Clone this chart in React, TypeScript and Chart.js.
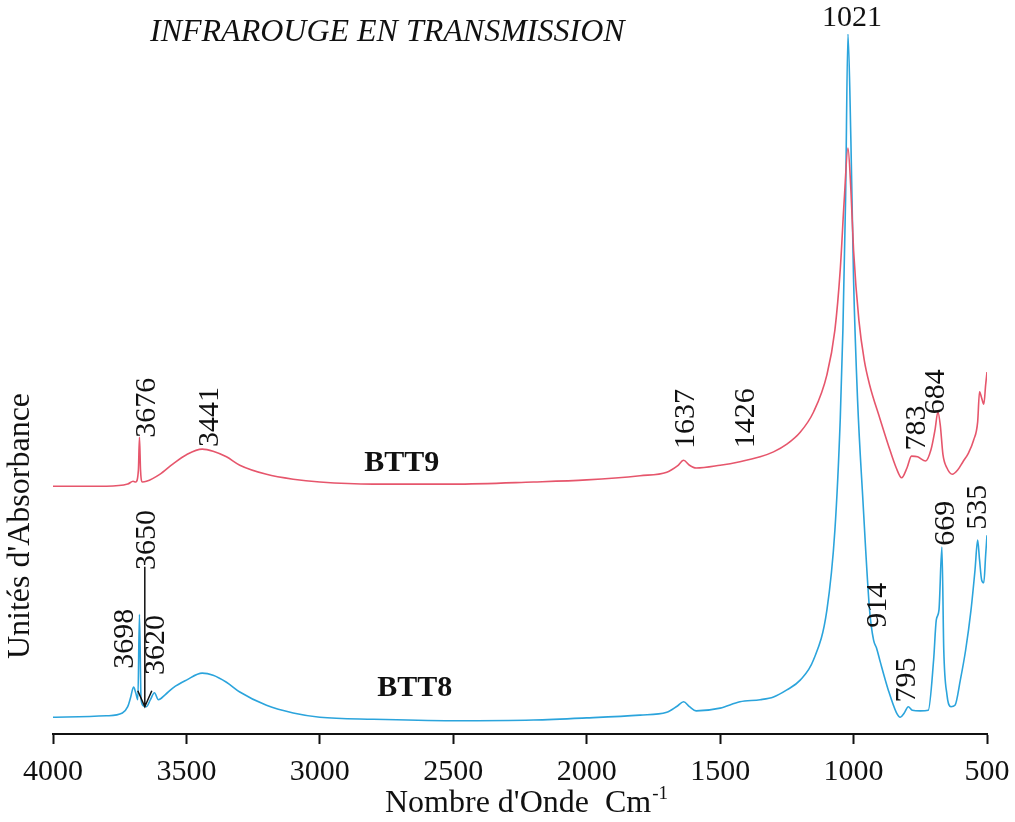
import React, { useEffect, useRef } from "react";
import { Chart, registerables } from "chart.js";

Chart.register(...registerables);

// Wavenumber (cm-1) axis ticks
const xTicks = [4000, 3500, 3000, 2500, 2000, 1500, 1000, 500];

// BTT9 spectrum (arbitrary absorbance units)
const btt9Wn = [4000, 3800, 3720, 3700, 3690, 3680, 3676, 3672, 3665, 3650, 3600, 3550, 3500, 3441, 3400, 3350, 3300, 3200, 3100, 3000, 2800, 2500, 2200, 2000, 1800, 1700, 1660, 1637, 1615, 1590, 1500, 1426, 1350, 1300, 1250, 1200, 1150, 1100, 1070, 1050, 1035, 1021, 1010, 1000, 980, 960, 940, 900, 870, 840, 820, 800, 783, 760, 730, 710, 695, 684, 675, 665, 650, 630, 610, 590, 570, 550, 535, 528, 520, 512, 505, 500];
const btt9Abs = [0.354, 0.354, 0.357, 0.361, 0.36, 0.377, 0.424, 0.377, 0.36, 0.361, 0.371, 0.386, 0.399, 0.407, 0.404, 0.396, 0.384, 0.371, 0.364, 0.36, 0.357, 0.357, 0.36, 0.363, 0.369, 0.374, 0.383, 0.391, 0.384, 0.38, 0.384, 0.389, 0.396, 0.403, 0.414, 0.431, 0.46, 0.513, 0.577, 0.663, 0.763, 0.837, 0.777, 0.691, 0.591, 0.534, 0.499, 0.449, 0.413, 0.38, 0.366, 0.38, 0.397, 0.396, 0.39, 0.406, 0.434, 0.46, 0.441, 0.399, 0.38, 0.371, 0.377, 0.389, 0.401, 0.42, 0.446, 0.489, 0.48, 0.471, 0.499, 0.517];

// BTT8 spectrum (arbitrary absorbance units)
const btt8Wn = [4000, 3800, 3740, 3720, 3710, 3698, 3690, 3682, 3676, 3670, 3660, 3650, 3635, 3620, 3605, 3580, 3550, 3500, 3441, 3400, 3350, 3300, 3200, 3100, 3000, 2800, 2500, 2200, 2000, 1800, 1700, 1660, 1637, 1615, 1590, 1500, 1426, 1350, 1300, 1250, 1200, 1150, 1100, 1070, 1050, 1040, 1030, 1021, 1010, 1000, 985, 965, 940, 925, 914, 900, 870, 840, 825, 810, 795, 780, 750, 720, 700, 690, 680, 669, 662, 650, 635, 620, 600, 580, 560, 545, 535, 528, 520, 512, 505, 500];
const btt8Abs = [0.024, 0.026, 0.03, 0.039, 0.051, 0.067, 0.059, 0.049, 0.171, 0.049, 0.04, 0.039, 0.049, 0.059, 0.049, 0.056, 0.066, 0.077, 0.087, 0.084, 0.074, 0.06, 0.041, 0.03, 0.024, 0.021, 0.019, 0.02, 0.023, 0.027, 0.031, 0.04, 0.046, 0.039, 0.033, 0.037, 0.046, 0.049, 0.053, 0.063, 0.077, 0.106, 0.177, 0.291, 0.449, 0.577, 0.763, 1.0, 0.847, 0.649, 0.477, 0.334, 0.177, 0.134, 0.123, 0.103, 0.063, 0.031, 0.024, 0.03, 0.039, 0.034, 0.033, 0.034, 0.106, 0.163, 0.177, 0.267, 0.12, 0.056, 0.039, 0.041, 0.077, 0.12, 0.177, 0.234, 0.277, 0.249, 0.22, 0.216, 0.256, 0.284];

// Peak annotations: text, wavenumber position, absorbance position
const peakLabels = ["3676", "3441", "1637", "1426", "783", "684", "3650", "3698", "3620", "914", "795", "669", "535"];
const peakLabelWn = [3649, 3413, 1628, 1403, 762, 691, 3649, 3728, 3612, 908, 799, 653, 533];
const peakLabelAbs = [0.466, 0.453, 0.45, 0.451, 0.437, 0.489, 0.277, 0.136, 0.127, 0.184, 0.077, 0.301, 0.324];

const seriesNames = ["BTT9", "BTT8"];
const seriesNameWn = [2693, 2644];
const seriesNameAbs = [0.387, 0.066];

const topPeakLabel = "1021";
const topPeakWn = 1006;
const topPeakAbs = 1.023;

const arrowWn = 3656;
const arrowFromAbs = 0.239;
const arrowToAbs = 0.039;

const titleText = "INFRAROUGE EN TRANSMISSION";
const yTitleText = "Unités d'Absorbance";
const xTitleText = "Nombre d'Onde  Cm";
const xTitleSup = "-1";

const RED = "#e6566c";
const BLUE = "#2ba4dc";
const SERIF = '"Liberation Serif", "Times New Roman", serif';

const annotationPlugin = {
  id: "annotations",
  afterDraw(chart: any) {
    const { ctx, scales } = chart;
    const xs = scales.x;
    const ys = scales.y;
    const px = (w: number) => xs.getPixelForValue(w);
    const py = (v: number) => ys.getPixelForValue(v);
    ctx.save();
    ctx.fillStyle = "#111";
    ctx.strokeStyle = "#111";

    // rotated peak labels
    ctx.font = `30px ${SERIF}`;
    peakLabels.forEach((t, i) => {
      ctx.save();
      ctx.translate(px(peakLabelWn[i]), py(peakLabelAbs[i]));
      ctx.rotate(-Math.PI / 2);
      ctx.textAlign = "center";
      ctx.textBaseline = "middle";
      ctx.fillText(t, 0, 0);
      ctx.restore();
    });

    // top peak label
    ctx.textAlign = "center";
    ctx.textBaseline = "middle";
    ctx.fillText(topPeakLabel, px(topPeakWn), py(topPeakAbs));

    // series names
    ctx.font = `bold 30px ${SERIF}`;
    seriesNames.forEach((t, i) => {
      ctx.fillText(t, px(seriesNameWn[i]), py(seriesNameAbs[i]));
    });

    // arrow
    const ax = px(arrowWn);
    const ay0 = py(arrowFromAbs);
    const ay1 = py(arrowToAbs);
    ctx.lineWidth = 1.5;
    ctx.beginPath();
    ctx.moveTo(ax, ay0);
    ctx.lineTo(ax, ay1);
    ctx.moveTo(ax - 7, ay1 - 16);
    ctx.lineTo(ax, ay1);
    ctx.lineTo(ax + 7, ay1 - 16);
    ctx.stroke();

    // title
    ctx.font = `italic 32px ${SERIF}`;
    ctx.textAlign = "left";
    ctx.textBaseline = "alphabetic";
    ctx.fillText(titleText, 150, 41);

    // y title
    ctx.font = `32px ${SERIF}`;
    ctx.save();
    ctx.translate(21, 526);
    ctx.rotate(-Math.PI / 2);
    ctx.textAlign = "center";
    ctx.textBaseline = "middle";
    ctx.fillText(yTitleText, 0, 0);
    ctx.restore();

    // x title
    ctx.font = `32px ${SERIF}`;
    const w1 = ctx.measureText(xTitleText).width;
    ctx.font = `19px ${SERIF}`;
    const w2 = ctx.measureText(xTitleSup).width;
    const cx = 526;
    const startX = cx - (w1 + w2) / 2;
    ctx.textAlign = "left";
    ctx.textBaseline = "alphabetic";
    ctx.font = `32px ${SERIF}`;
    ctx.fillText(xTitleText, startX, 812);
    ctx.font = `19px ${SERIF}`;
    ctx.fillText(xTitleSup, startX + w1 + 1, 799);

    ctx.restore();
  },
};

export default function App() {
  const canvasRef = useRef<HTMLCanvasElement | null>(null);

  useEffect(() => {
    document.body.style.margin = "0";
    const canvas = canvasRef.current;
    if (!canvas) return;
    const chart = new Chart(canvas, {
      type: "line",
      data: {
        datasets: [
          {
            label: seriesNames[0],
            data: btt9Wn.map((w, i) => ({ x: w, y: btt9Abs[i] })),
            borderColor: RED,
            borderWidth: 1.6,
            pointRadius: 0,
            fill: false,
            cubicInterpolationMode: "monotone",
          },
          {
            label: seriesNames[1],
            data: btt8Wn.map((w, i) => ({ x: w, y: btt8Abs[i] })),
            borderColor: BLUE,
            borderWidth: 1.6,
            pointRadius: 0,
            fill: false,
            cubicInterpolationMode: "monotone",
          },
        ],
      },
      options: {
        responsive: false,
        animation: false,
        layout: { padding: { left: 53, right: 28, top: 34, bottom: 32 } },
        plugins: {
          legend: { display: false },
          tooltip: { enabled: false },
          title: { display: false },
        },
        scales: {
          x: {
            type: "linear",
            reverse: true,
            min: 500,
            max: 4000,
            afterBuildTicks: (scale: any) => {
              scale.ticks = xTicks.map((v) => ({ value: v }));
            },
            afterFit: (scale: any) => {
              scale.paddingLeft = 0;
              scale.paddingRight = 0;
              scale.paddingTop = 0;
              scale.paddingBottom = 0;
              scale.height = 56;
            },
            ticks: {
              color: "#111",
              font: { family: SERIF, size: 30 },
              padding: 10,
              maxRotation: 0,
              autoSkip: false,
              callback: (v: any) => String(v),
            },
            grid: {
              drawOnChartArea: false,
              drawTicks: true,
              tickLength: 10,
              tickWidth: 2,
              color: "#111",
            },
            border: { display: true, color: "#111", width: 2 },
          },
          y: { display: false, min: 0, max: 1 },
        },
      },
      plugins: [annotationPlugin],
    });
    return () => chart.destroy();
  }, []);

  return (
    <div style={{ width: 1015, height: 822 }}>
      <canvas ref={canvasRef} width={1015} height={822} />
    </div>
  );
}
